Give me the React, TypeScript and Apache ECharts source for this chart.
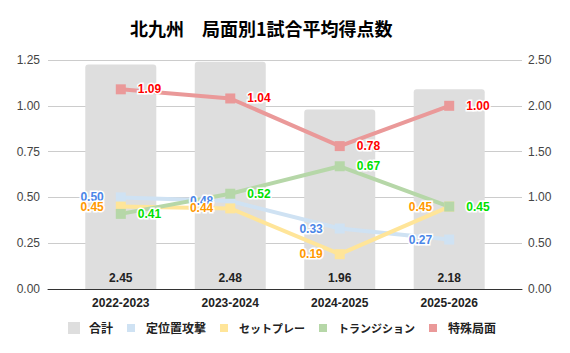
import React, { useEffect, useRef } from "react";
import * as echarts from "echarts";

const categories = ["2022-2023", "2023-2024", "2024-2025", "2025-2026"];
const totalValues = [2.45, 2.48, 1.96, 2.18];
const setPieceAttack = [0.5, 0.48, 0.33, 0.27];
const setPlay = [0.45, 0.44, 0.19, 0.45];
const transition = [0.41, 0.52, 0.67, 0.45];
const special = [1.09, 1.04, 0.78, 1.0];
const leftTicks = { min: 0, max: 1.25, interval: 0.25 };
const rightTicks = { min: 0, max: 2.5, interval: 0.5 };

const FONT = "'Liberation Sans', Arial, 'Noto Sans CJK JP', sans-serif";
const SMALL_ICON = "path://M0,0L0.01,0L0,0.01ZM12,12L11.99,12L12,11.99ZM2,2L10,2L10,10L2,10Z";

function pairs(vals: number[]) {
  return vals.map((v, i) => [i, v]);
}

export default function App() {
  const ref = useRef<HTMLDivElement>(null);
  useEffect(() => {
    if (!ref.current) return;
    const chart = echarts.init(ref.current, undefined, { renderer: "svg" });
    const lineSeries = (
      name: string,
      data: number[],
      color: string,
      labelColor: string,
      pos: "left" | "right"
    ) => ({
      name,
      type: "line",
      yAxisIndex: 0,
      data: pairs(data),
      symbol: "rect",
      symbolSize: 10,
      itemStyle: { color },
      lineStyle: { color, width: 4 },
      z: 5,
      label: {
        show: true,
        position: pos,
        distance: 12,
        color: labelColor,
        fontWeight: "bold",
        fontSize: 12,
        fontFamily: FONT,
        textBorderColor: "#fff",
        textBorderWidth: 3,
        formatter: (p: any) => p.value[1].toFixed(2),
      },
    });
    const legendFont = "'Noto Sans CJK JP', sans-serif";
    chart.setOption({
      animation: false,
      textStyle: { fontFamily: FONT },
      title: {
        text: "北九州　局面別1試合平均得点数",
        left: 125,
        top: 14,
        textStyle: {
          fontSize: 18,
          fontWeight: "bold",
          color: "#000",
          fontFamily: "'Noto Sans CJK JP', 'Liberation Sans', sans-serif",
        },
      },
      legend: {
        bottom: 14,
        left: 63,
        itemWidth: 12,
        itemHeight: 12,
        itemGap: 12,
        formatter: (name: string) =>
          /[\u30A0-\u30FF]/.test(name) ? `{k|${name}}` : `{n|${name}}`,
        textStyle: {
          fontSize: 12,
          fontWeight: "bold",
          color: "#222",
          padding: [0, 0, 0, 4],
          fontFamily: legendFont,
          rich: {
            n: { fontSize: 12, fontWeight: "bold", color: "#222", fontFamily: legendFont },
            k: { fontSize: 11, fontWeight: "bold", color: "#222", fontFamily: legendFont },
          },
        },
        data: [
          { name: "合計", icon: "rect" },
          { name: "定位置攻撃", icon: SMALL_ICON },
          { name: "セットプレー", icon: SMALL_ICON },
          { name: "トランジション", icon: SMALL_ICON },
          { name: "特殊局面", icon: SMALL_ICON },
        ],
      },
      grid: { left: 48, right: 48, top: 60, bottom: 64 },
      xAxis: {
        type: "value",
        min: -0.665,
        max: 3.665,
        axisLine: { show: true, onZero: false, lineStyle: { color: "#333", width: 1 } },
        axisTick: { show: false },
        splitLine: { show: false },
        axisLabel: {
          customValues: [0, 1, 2, 3],
          formatter: (v: number) => categories[Math.round(v)] ?? "",
          fontWeight: "bold",
          fontSize: 12,
          color: "#222",
          margin: 8,
        },
      },
      yAxis: [
        {
          type: "value",
          ...leftTicks,
          axisLine: { show: false },
          axisTick: { show: false },
          splitLine: { lineStyle: { color: "#ccc" } },
          axisLabel: {
            formatter: (v: number) => v.toFixed(2),
            color: "#444",
            fontSize: 12,
            margin: 8,
          },
        },
        {
          type: "value",
          ...rightTicks,
          axisLine: { show: false },
          axisTick: { show: false },
          splitLine: { show: false },
          axisLabel: {
            formatter: (v: number) => v.toFixed(2),
            color: "#444",
            fontSize: 12,
            margin: 6,
          },
        },
      ],
      series: [
        {
          name: "合計",
          type: "bar",
          yAxisIndex: 1,
          data: pairs(totalValues),
          barWidth: 71,
          itemStyle: { color: "#dedede", borderRadius: [3, 3, 0, 0] },
          z: 1,
          label: {
            show: true,
            position: "insideBottom",
            distance: 5,
            color: "#222",
            fontWeight: "bold",
            fontSize: 12,
            formatter: (p: any) => p.value[1].toFixed(2),
          },
        },
        lineSeries("定位置攻撃", setPieceAttack, "#cfe2f3", "#4a86e8", "left"),
        lineSeries("セットプレー", setPlay, "#ffe599", "#ff9900", "left"),
        lineSeries("トランジション", transition, "#b6d7a8", "#00e000", "right"),
        lineSeries("特殊局面", special, "#ea9999", "#ff0000", "right"),
      ],
    });
    return () => chart.dispose();
  }, []);
  return (
    <div
      ref={ref}
      style={{ position: "absolute", left: 0, top: 0, width: 570, height: 353 }}
    />
  );
}
